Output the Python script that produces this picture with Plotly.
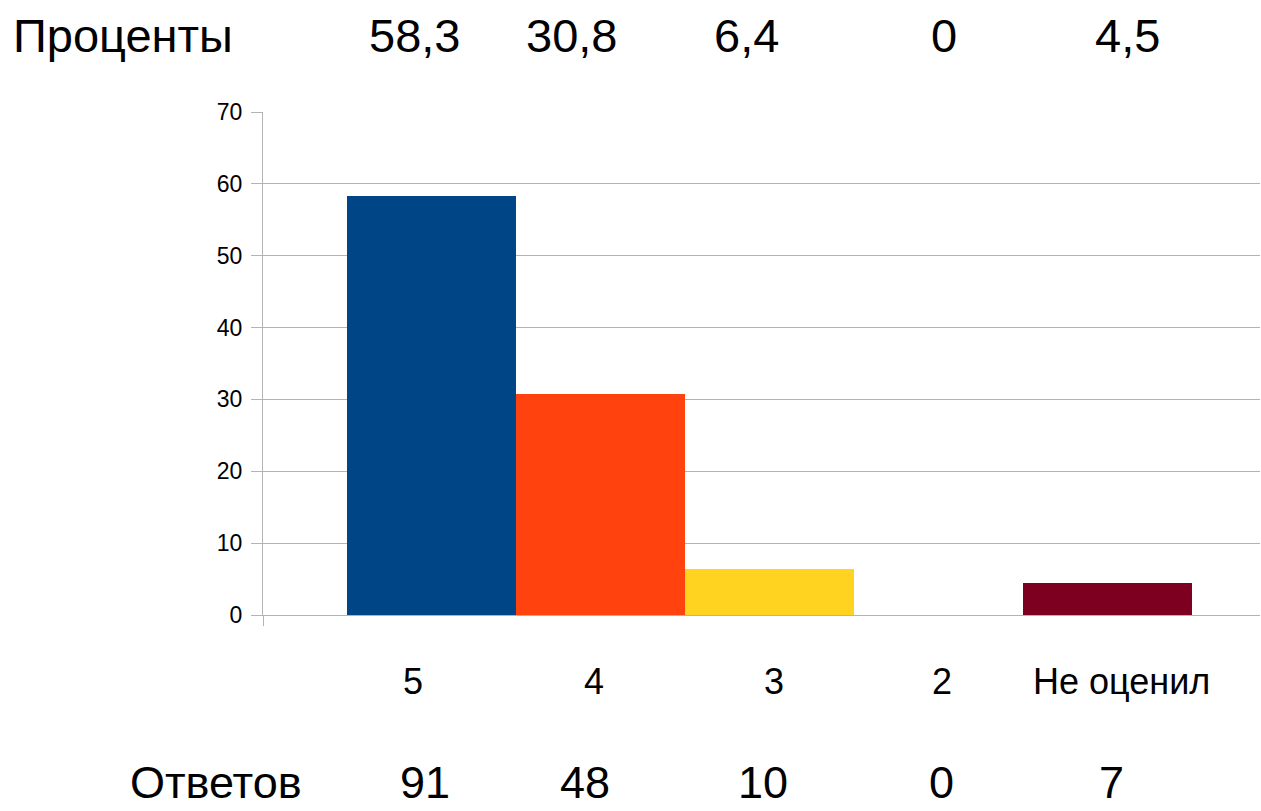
import plotly.graph_objects as go

categories = ["5", "4", "3", "2", "Не оценил"]
percents = [58.3, 30.8, 6.4, 0, 4.5]
answers = [91, 48, 10, 0, 7]
bar_colors = ["#004586", "#ff420e", "#ffd320", "#579d1c", "#7e0021"]

row_label_top = "Проценты"
row_label_bottom = "Ответов"

# pixel offsets of text relative to bar centres (style only)
cat_shift = [-19, -7, 4, 3, 14]
pct_shift = [-17, -29, -23, 5, 20]
ans_shift = [-7, -16, -7, 3, 4]

FONT = "Liberation Sans, Arial, sans-serif"


def fmt(v):
    s = ("%g" % v)
    return s.replace(".", ",")


x_idx = list(range(len(categories)))

fig = go.Figure()
fig.add_trace(go.Bar(
    x=x_idx, y=percents, width=1,
    marker=dict(color=bar_colors, line=dict(width=0)),
    showlegend=False, hoverinfo="skip",
))

ann = []
common = dict(showarrow=False, xanchor="center", yanchor="middle")
for i, c in enumerate(categories):
    ann.append(dict(x=i, y=-0.133, xref="x", yref="paper", text=c,
                    xshift=cat_shift[i], font=dict(size=36, color="black", family=FONT), **common))
    ann.append(dict(x=i, y=1.153, xref="x", yref="paper", text=fmt(percents[i]),
                    xshift=pct_shift[i], font=dict(size=47, color="black", family=FONT), **common))
    ann.append(dict(x=i, y=-0.333, xref="x", yref="paper", text=str(answers[i]),
                    xshift=ans_shift[i], font=dict(size=45, color="black", family=FONT), **common))

ann.append(dict(x=-0.14, y=1.153, xref="paper", yref="paper", text=row_label_top,
                font=dict(size=47, color="black", family=FONT), **common))
ann.append(dict(x=-0.0475, y=-0.333, xref="paper", yref="paper", text=row_label_bottom,
                font=dict(size=45, color="black", family=FONT), **common))

fig.update_layout(
    width=1261, height=811,
    margin=dict(l=263, r=1, t=112, b=196),
    paper_bgcolor="white", plot_bgcolor="white",
    bargap=0,
    annotations=ann,
    font=dict(family=FONT, color="black"),
    xaxis=dict(range=[-1, 4.9], tickmode="array", tickvals=[-1], ticktext=[""],
               ticks="outside", ticklen=10, tickcolor="#b3b3b3", tickwidth=1,
               showline=True, linecolor="#b3b3b3", linewidth=1,
               showgrid=False, zeroline=False, fixedrange=True),
    yaxis=dict(range=[0, 70], dtick=10, tick0=0,
               ticks="outside", ticklen=11, tickcolor="#b3b3b3", tickwidth=1,
               showline=True, linecolor="#b3b3b3", linewidth=1,
               showgrid=True, gridcolor="#b3b3b3", gridwidth=1,
               zeroline=False, tickfont=dict(size=23, color="black", family=FONT),
               ticklabelstandoff=4),
)

fig.write_html("out.html", config={"displayModeBar": False},
               post_script="document.body.style.margin='0';document.body.style.overflow='hidden';")
